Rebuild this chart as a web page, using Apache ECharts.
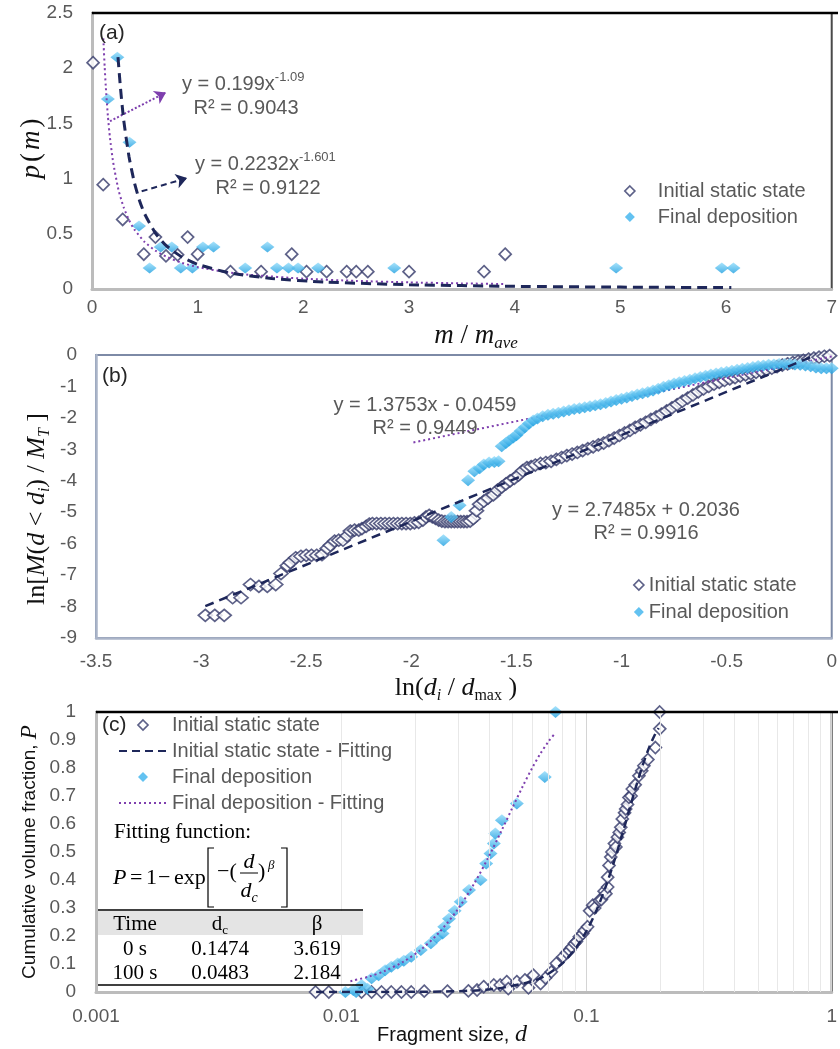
<!DOCTYPE html>
<html><head><meta charset="utf-8">
<script src="https://cdn.jsdelivr.net/npm/echarts@6/dist/echarts.min.js"></script>
<style>html,body{margin:0;padding:0;background:#fff}#chart{width:840px;height:1049px}</style>
</head><body><div id="chart"></div>
<script>
// ---------- Panel (a): p(m) vs m/m_ave ----------
const aInitial = [[0.01,2.05],[0.106,0.945],[0.29,0.63],[0.49,0.315],[0.60,0.47],[0.70,0.30],[0.81,0.31],[0.905,0.47],[1.0,0.315],[1.31,0.157],[1.60,0.157],[1.89,0.315],[2.03,0.157],[2.22,0.157],[2.41,0.157],[2.50,0.157],[2.61,0.157],[3.00,0.157],[3.71,0.157],[3.91,0.315]];
const aFinal = [[0.24,2.10],[0.15,1.72],[0.355,1.33],[0.445,0.57],[0.545,0.19],[0.65,0.38],[0.755,0.38],[0.84,0.19],[0.95,0.19],[1.05,0.38],[1.15,0.38],[1.45,0.19],[1.66,0.38],[1.75,0.19],[1.86,0.19],[1.95,0.19],[2.14,0.19],[2.86,0.19],[4.96,0.19],[5.96,0.19],[6.07,0.19]];
const aFitFinal = [[0.107,2.27],[0.11,2.21],[0.12,2.01],[0.13,1.84],[0.15,1.57],[0.17,1.37],[0.2,1.15],[0.25,0.90],[0.3,0.739],[0.35,0.625],[0.4,0.54],[0.5,0.424],[0.6,0.347],[0.7,0.294],[0.85,0.237],[1.0,0.199],[1.25,0.156],[1.5,0.128],[2,0.0935],[2.5,0.0733],[3,0.060],[3.5,0.0508],[3.9,0.0451]];
const aFitInitial = [[0.246,2.10],[0.27,1.816],[0.3,1.53],[0.35,1.20],[0.4,0.968],[0.45,0.80],[0.5,0.677],[0.6,0.506],[0.7,0.395],[0.85,0.29],[1.0,0.2232],[1.3,0.147],[1.7,0.0954],[2.2,0.0632],[3,0.0385],[4,0.0243],[5,0.017],[6.05,0.0125]];
const aArrowFinal = [[0.17,1.52],[0.70,1.78]];
const aArrowInitial = [[0.47,0.885],[0.90,1.005]];
const aXTicks = {min:0, max:7, interval:1};
const aYTicks = {min:0, max:2.5, interval:0.5};

// ---------- Panel (b): ln[M(d<di)/MT] vs ln(di/dmax) ----------
const bInitial = [[-2.98,-8.28],[-2.935,-8.28],[-2.89,-8.28],[-2.85,-7.72],[-2.81,-7.72],[-2.765,-7.3],[-2.725,-7.36],[-2.685,-7.36],[-2.645,-7.3],
[-2.62,-6.95],[-2.59,-6.7],[-2.575,-6.6],[-2.55,-6.45],[-2.525,-6.4],[-2.5,-6.37],[-2.475,-6.37],[-2.45,-6.37],[-2.425,-6.35],
[-2.4,-6.15],[-2.385,-6.05],[-2.365,-5.92],[-2.345,-5.89],[-2.325,-5.89],[-2.305,-5.75],[-2.29,-5.6],[-2.27,-5.57],[-2.25,-5.57],[-2.235,-5.52],[-2.215,-5.45],[-2.2,-5.38],
[-2.185,-5.36],[-2.165,-5.36],[-2.145,-5.36],[-2.125,-5.36],[-2.105,-5.36],[-2.085,-5.36],[-2.065,-5.36],[-2.045,-5.36],[-2.025,-5.36],[-2.005,-5.36],[-1.985,-5.34],[-1.965,-5.32],[-1.945,-5.25],[-1.93,-5.15],[-1.915,-5.1],[-1.9,-5.15],[-1.885,-5.2],[-1.87,-5.25],[-1.855,-5.28],[-1.84,-5.3],[-1.825,-5.3],[-1.81,-5.3],[-1.795,-5.3],[-1.78,-5.3],[-1.765,-5.3],[-1.75,-5.3],[-1.735,-5.3],[-1.72,-5.28],[-1.705,-5.2],
[-1.69,-4.95],[-1.675,-4.75],[-1.655,-4.65],[-1.635,-4.55],[-1.61,-4.45],[-1.59,-4.3],[-1.57,-4.2],[-1.55,-4.1],[-1.53,-4.0],[-1.51,-3.92],[-1.49,-3.82],[-1.47,-3.68],[-1.45,-3.58],[-1.43,-3.55],[-1.41,-3.5],[-1.385,-3.45],[-1.36,-3.42],[-1.335,-3.38],[-1.31,-3.32],[-1.285,-3.26],[-1.26,-3.2],[-1.235,-3.15],[-1.21,-3.1],[-1.185,-3.04],[-1.16,-2.98],[-1.135,-2.92],[-1.11,-2.86],[-1.085,-2.8],[-1.06,-2.72],[-1.035,-2.64],[-1.01,-2.56],[-0.985,-2.48],[-0.96,-2.4],[-0.935,-2.3],[-0.91,-2.22],[-0.885,-2.14],[-0.86,-2.05],[-0.835,-1.97],[-0.81,-1.88],[-0.785,-1.78],[-0.76,-1.68],[-0.735,-1.58],[-0.71,-1.47],[-0.685,-1.37],[-0.66,-1.27],[-0.635,-1.17],[-0.61,-1.08],[-0.585,-1.0],[-0.56,-0.93],[-0.535,-0.87],[-0.51,-0.81],[-0.485,-0.76],[-0.46,-0.72],[-0.435,-0.67],[-0.41,-0.63],[-0.385,-0.59],[-0.36,-0.55],[-0.335,-0.51],[-0.31,-0.47],[-0.285,-0.42],[-0.26,-0.37],[-0.235,-0.32],[-0.21,-0.28],[-0.185,-0.24],[-0.16,-0.2],[-0.135,-0.17],[-0.11,-0.13],[-0.085,-0.1],[-0.06,-0.07],[-0.035,-0.04],[-0.01,-0.02]];
const bFinal = [[-1.847,-5.89],[-1.81,-5.15],[-1.77,-4.78],[-1.73,-3.98],[-1.70,-3.7],[-1.675,-3.6],[-1.655,-3.48],[-1.63,-3.42],[-1.605,-3.4],[-1.585,-3.38],[-1.57,-2.9],[-1.55,-2.8],[-1.535,-2.72],[-1.515,-2.62],[-1.5,-2.55],[-1.48,-2.42],[-1.46,-2.3],[-1.44,-2.18],[-1.42,-2.08],[-1.4,-2.02],[-1.375,-1.95],[-1.35,-1.9],[-1.325,-1.87],[-1.3,-1.84],[-1.275,-1.8],[-1.25,-1.76],[-1.225,-1.72],[-1.2,-1.69],[-1.175,-1.66],[-1.15,-1.63],[-1.125,-1.6],[-1.1,-1.57],[-1.075,-1.53],[-1.05,-1.48],[-1.025,-1.43],[-1.0,-1.39],[-0.975,-1.35],[-0.95,-1.3],[-0.925,-1.26],[-0.9,-1.22],[-0.875,-1.18],[-0.85,-1.13],[-0.825,-1.07],[-0.8,-1.01],[-0.775,-0.96],[-0.75,-0.91],[-0.725,-0.87],[-0.7,-0.83],[-0.675,-0.79],[-0.65,-0.74],[-0.625,-0.7],[-0.6,-0.66],[-0.575,-0.62],[-0.55,-0.59],[-0.525,-0.56],[-0.5,-0.53],[-0.475,-0.5],[-0.45,-0.47],[-0.425,-0.44],[-0.4,-0.41],[-0.375,-0.38],[-0.35,-0.35],[-0.325,-0.33],[-0.3,-0.31],[-0.275,-0.3],[-0.25,-0.29],[-0.225,-0.29],[-0.2,-0.29],[-0.175,-0.3],[-0.15,-0.31],[-0.125,-0.33],[-0.1,-0.36],[-0.075,-0.4],[-0.05,-0.42],[-0.025,-0.42],[0,-0.42]];
const bFitInitial = [[-2.98,-7.987],[-0.074,0]];
const bFitFinal = [[-1.99,-2.78],[0,-0.046]];
const bXTicks = {min:-3.5, max:0, interval:0.5};
const bYTicks = {min:-9, max:0, interval:1};

// ---------- Panel (c): cumulative volume fraction vs fragment size ----------
const cInitial = [[0.00786,0],[0.0089,0],[0.0121,0],[0.0133,0],[0.0146,0],[0.016,0],[0.0176,0],[0.0193,0],[0.0218,0.003],[0.0271,0.003],[0.033,0.004],[0.0358,0.007],[0.0381,0.019],[0.0419,0.025],[0.0445,0.025],[0.0473,0.037],[0.048,0.012],[0.052,0.037],[0.0561,0.043],[0.058,0.015],[0.0607,0.06],[0.065,0.03],[0.068,0.05],[0.0719,0.072],[0.0753,0.102],[0.0802,0.126],[0.083,0.14],[0.0853,0.149],[0.087,0.16],[0.0893,0.173],[0.091,0.18],[0.0935,0.197],[0.0966,0.209],[0.098,0.22],[0.101,0.233],[0.103,0.29],[0.106,0.31],[0.108,0.30],[0.1127,0.327],[0.115,0.33],[0.118,0.36],[0.12,0.351],[0.122,0.375],[0.122,0.41],[0.1236,0.452],[0.1256,0.482],[0.127,0.5],[0.130,0.53],[0.1318,0.518],[0.1337,0.553],[0.136,0.57],[0.138,0.588],[0.140,0.618],[0.143,0.64],[0.1445,0.654],[0.147,0.67],[0.149,0.695],[0.152,0.70],[0.1538,0.725],[0.158,0.74],[0.1636,0.772],[0.168,0.79],[0.1714,0.808],[0.178,0.83],[0.191,0.873],[0.199,0.94],[0.1988,1.0]];
const cFinal = [[0.0104,0],[0.0112,0.007],[0.0115,0],[0.0121,0.025],[0.0128,0.012],[0.0133,0.049],[0.0142,0.06],[0.0151,0.078],[0.016,0.09],[0.017,0.102],[0.018,0.112],[0.0193,0.126],[0.0211,0.15],[0.0232,0.174],[0.0245,0.195],[0.0259,0.209],[0.0263,0.233],[0.0275,0.262],[0.029,0.29],[0.0307,0.322],[0.0332,0.364],[0.037,0.40],[0.039,0.459],[0.0406,0.495],[0.0419,0.53],[0.0425,0.566],[0.0452,0.613],[0.052,0.673],[0.0676,0.768],[0.0748,1.0]];
const cFitInitial = [[0.0079,0],[0.02,0.0007],[0.04,0.0089],[0.06,0.038],[0.07,0.0653],[0.08,0.1037],[0.09,0.1545],[0.1,0.2178],[0.11,0.293],[0.12,0.3781],[0.13,0.4699],[0.14,0.564],[0.15,0.6554],[0.16,0.7397],[0.17,0.8128],[0.18,0.8727],[0.19,0.9185],[0.197,0.9425]];
const cFitFinal = [[0.0109,0.0387],[0.013,0.0553],[0.015,0.0748],[0.018,0.1093],[0.021,0.1497],[0.025,0.2113],[0.03,0.2977],[0.035,0.3904],[0.04,0.4844],[0.045,0.5755],[0.05,0.6599],[0.055,0.735],[0.06,0.7993],[0.065,0.8524],[0.07,0.8945],[0.0745,0.924]];
const cMinorGrid = [0.002,0.003,0.004,0.005,0.006,0.007,0.008,0.009,0.02,0.03,0.04,0.05,0.06,0.07,0.08,0.09,0.2,0.3,0.4,0.5,0.6,0.7,0.8,0.9];
const cXTicks = {min:0.001, max:1};
const cYTicks = {min:0, max:1, interval:0.1};
const tableHeader = ['Time', 'dc', 'β'];
const tableRows = [['0 s','0.1474','3.619'],['100 s','0.0483','2.184']];

// ---------- styling ----------
const SANS = '"Liberation Sans", Arial, sans-serif';
const SERIF = '"Liberation Serif", "Times New Roman", serif';
const NAVY = '#343a6a';
const FIT_NAVY = '#1e275a';
const PURPLE = '#7e3fae';
const GREY_TXT = '#595959';
const BLUE_GRAD = {type:'linear', x:0, y:0, x2:0, y2:1, colorStops:[{offset:0,color:'#92dcfb'},{offset:1,color:'#1b9ee0'}]};
const LABEL = {fontSize:19, color:GREY_TXT, fontFamily:SANS};
const DIAMOND_ICON = 'path://M5,0L10,5L5,10L0,5Z';

function axisLine(c, w){ return {show:true, onZero:false, lineStyle:{color:c, width:w}}; }
function valAxis(grid, t, margin, lineColor, lineW){
  return Object.assign({type:'value', gridIndex:grid, axisLine:axisLine(lineColor,lineW), axisTick:{show:false},
    splitLine:{show:false}, axisLabel:Object.assign({margin:margin}, LABEL)}, t);
}

function T(x, y, text, o){
  o = o || {};
  const st = {text:text, fill:o.fill||'#000', fontSize:o.size||20, fontFamily:o.family||SANS, fontStyle:o.fstyle||'normal',
    align:o.align||'left', verticalAlign:o.va||'middle', textAlign:o.align||'left', textVerticalAlign:o.va||'middle'};
  if (o.rich) st.rich = o.rich;
  return {type:'text', x:x, y:y, rotation:o.rot||0, silent:true, z:100, style:st};
}
function richSet(size, fill, fam){
  fam = fam || SERIF;
  return {
    r:{fontFamily:fam, fontSize:size, lineHeight:size+6, fill:fill, verticalAlign:'middle'},
    i:{fontFamily:SERIF, fontStyle:'italic', fontSize:size, lineHeight:size+6, fill:fill, verticalAlign:'middle'},
    s:{fontFamily:SERIF, fontStyle:'italic', fontSize:Math.round(size*0.62), lineHeight:Math.round(size*0.55), fill:fill, verticalAlign:'bottom'},
    sr:{fontFamily:SERIF, fontSize:Math.round(size*0.62), lineHeight:Math.round(size*0.55), fill:fill, verticalAlign:'bottom'},
    p:{fontFamily:fam, fontSize:Math.round(size*0.65), lineHeight:Math.round(size*0.6), fill:fill, verticalAlign:'top'},
    g:{fontFamily:fam, fontSize:size, lineHeight:size+6, fill:fill, verticalAlign:'middle', padding:[0,3,0,3]}
  };
}
function line(x1,y1,x2,y2,w){ return {type:'line', silent:true, z:100, shape:{x1:x1,y1:y1,x2:x2,y2:y2}, style:{stroke:'#000', lineWidth:w||1}}; }
function poly(pts){ return {type:'polyline', silent:true, z:100, shape:{points:pts}, style:{stroke:'#000', lineWidth:1.2, fill:null}}; }

const graphics = [
  // panel labels
  T(99, 33, '(a)', {size:21, fill:'#262626'}),
  T(102, 376, '(b)', {size:21, fill:'#262626'}),
  T(102, 725, '(c)', {size:21, fill:'#262626'}),
  // top borders (black) of panels (a) and (c)
  line(92, 13, 838, 13, 2.5),
  line(96, 712, 838, 712, 2.5),
  // (a) annotations
  T(182, 84, '{r|y = 0.199x}{p|-1.09}', {rich:richSet(20, GREY_TXT, SANS)}),
  T(246, 108, 'R² = 0.9043', {size:20, fill:GREY_TXT, align:'center'}),
  T(195, 164, '{r|y = 0.2232x}{p|-1.601}', {rich:richSet(20, GREY_TXT, SANS)}),
  T(268, 188, 'R² = 0.9122', {size:20, fill:GREY_TXT, align:'center'}),
  // (b) annotations
  T(425, 405, 'y = 1.3753x - 0.0459', {size:20, fill:GREY_TXT, align:'center'}),
  T(425, 428, 'R² = 0.9449', {size:20, fill:GREY_TXT, align:'center'}),
  T(646, 510, 'y = 2.7485x + 0.2036', {size:20, fill:GREY_TXT, align:'center'}),
  T(646, 533, 'R² = 0.9916', {size:20, fill:GREY_TXT, align:'center'}),
  // axis titles
  T(476, 336, '{i|m}{r| / }{i|m}{s|ave}', {align:'center', rich:richSet(27, '#111')}),
  T(32, 150, '{g|p}{r|(}{g|m}{r|)}', {align:'center', rot:Math.PI/2, rich:(function(){const r=richSet(27,'#111'); r.g.fontStyle='italic'; return r;})()}),
  T(456, 688, '{r|ln(}{i|d}{s|i}{r| / }{i|d}{sr|max}{r| )}', {align:'center', rich:richSet(26, '#111')}),
  T(37, 509, '{r|ln[}{i|M}{r|(}{i|d}{r| < }{i|d}{s|i}{r|) / }{i|M}{s|T}{r| ]}', {align:'center', rot:Math.PI/2, rich:richSet(26, '#111')}),
  T(452, 1035, '{r|Fragment size, }{i|d}', {align:'center', rich:(function(){const r=richSet(20,'#111',SANS); r.i.fontSize=24; r.i.lineHeight=28; return r;})()}),
  T(30, 852, '{r|Cumulative volume fraction, }{i|P}', {align:'center', rot:Math.PI/2, rich:(function(){const r=richSet(19,'#111',SANS); r.i.fontSize=23; r.i.lineHeight=27; return r;})()}),
  // fitting function
  T(114, 832, 'Fitting function:', {size:21, family:SERIF}),
  T(113, 878, 'P', {size:22, family:SERIF, fstyle:'italic'}),
  T(130, 878, '=', {size:22, family:SERIF}),
  T(146, 878, '1', {size:22, family:SERIF}),
  T(158, 878, '−', {size:22, family:SERIF}),
  T(174, 878, 'exp', {size:22, family:SERIF}),
  poly([[214,848],[208,848],[208,907],[214,907]]),
  poly([[281,848],[287,848],[287,907],[281,907]]),
  T(217, 872, '−(', {size:22, family:SERIF}),
  T(249, 862, 'd', {size:22, family:SERIF, fstyle:'italic', align:'center'}),
  line(240, 873, 258, 873, 1),
  T(249, 891, '{i|d}{s|c}', {align:'center', rich:richSet(22, '#000')}),
  T(258, 872, ')', {size:22, family:SERIF}),
  T(268, 866, 'β', {size:13, family:SERIF, fstyle:'italic'}),
  // table
  {type:'rect', silent:true, z:99, shape:{x:98, y:911, width:265, height:24}, style:{fill:'#e4e4e4'}},
  line(98, 910, 363, 910, 1.3),
  line(98, 985, 363, 985, 1.3),
  T(135, 924, tableHeader[0], {size:21, family:SERIF, align:'center'}),
  T(220, 924, '{r|' + tableHeader[1].charAt(0) + '}{sr|' + tableHeader[1].slice(1) + '}', {align:'center', rich:richSet(21, '#000')}),
  T(317, 924, tableHeader[2], {size:21, family:SERIF, align:'center'})
];
const rowY = [949, 973];
const colX = [135, 220, 317];
tableRows.forEach(function(row, ri){
  row.forEach(function(cell, ci){
    graphics.push(T(colX[ci], rowY[ri], cell, {size:21, family:SERIF, align:'center'}));
  });
});

const hollowItem = {color:'#ffffff', borderColor:NAVY, borderWidth:1.7};
const legendText = {fontSize:20, color:GREY_TXT, fontFamily:SANS, lineHeight:20};
const legHollow = {name:'Initial static state', icon:DIAMOND_ICON, itemStyle:hollowItem};
const legFilled = {name:'Final deposition', icon:DIAMOND_ICON, itemStyle:{color:'#3cb3ee', borderWidth:0}};
const noSym = {color:'rgba(0,0,0,0)', borderColor:'rgba(0,0,0,0)', borderWidth:0, opacity:0};

const option = {
  animation:false,
  backgroundColor:'#ffffff',
  grid:[
    {left:92, top:13, width:746, height:276, show:true, borderColor:'#4a4a4a', borderWidth:2},
    {left:96, top:355, width:742, height:283, show:true, borderColor:'#7d8aa6', borderWidth:2},
    {left:96, top:712, width:742, height:280, show:true, borderColor:'#4a4a4a', borderWidth:2}
  ],
  xAxis:[
    valAxis(0, aXTicks, 9, '#bcbcbc', 3),
    valAxis(1, bXTicks, 14, '#aab4c8', 2.5),
    {type:'log', logBase:10, gridIndex:2, min:cXTicks.min, max:cXTicks.max, axisLine:axisLine('#bcbcbc',3), axisTick:{show:false},
      splitLine:{show:true, lineStyle:{color:'#d4d4d4', width:1}}, axisLabel:Object.assign({margin:15}, LABEL)}
  ],
  yAxis:[
    valAxis(0, aYTicks, 19, '#bcbcbc', 3),
    valAxis(1, bYTicks, 19, '#aab4c8', 2.5),
    valAxis(2, cYTicks, 20, '#bcbcbc', 3)
  ],
  legend:[
    {data:[legHollow, legFilled], orient:'vertical', align:'left', left:624, top:181, padding:0, itemWidth:46, itemHeight:10, itemGap:6,
      symbolKeepAspect:true, textStyle:legendText, selectedMode:false},
    {data:[legHollow, legFilled], orient:'vertical', align:'left', left:633, top:575, padding:0, itemWidth:10, itemHeight:10, itemGap:7,
      symbolKeepAspect:true, textStyle:legendText, selectedMode:false},
    {data:[legHollow, {name:'Initial static state - Fitting', itemStyle:noSym}, legFilled, {name:'Final deposition - Fitting', itemStyle:noSym}],
      orient:'vertical', align:'left', left:118, top:715, padding:0, itemWidth:48, itemHeight:10, itemGap:6, symbolKeepAspect:true, textStyle:legendText, selectedMode:false}
  ],
  graphic:{elements:graphics},
  series:[
    // (a)
    {name:'Initial static state', type:'scatter', xAxisIndex:0, yAxisIndex:0, data:aInitial, symbol:'diamond', symbolSize:[12,12], itemStyle:hollowItem, z:2},
    {name:'Final deposition', type:'scatter', xAxisIndex:0, yAxisIndex:0, data:aFinal, symbol:'diamond', symbolSize:[14,11], itemStyle:{color:BLUE_GRAD}, z:3},
    {name:'fitA_final', type:'line', xAxisIndex:0, yAxisIndex:0, data:aFitFinal, symbol:'none', smooth:0.2, lineStyle:{color:PURPLE, width:2, type:[2,3]}, z:4,
      markLine:{silent:true, symbol:['none','arrow'], symbolSize:11, label:{show:false}, lineStyle:{color:PURPLE, width:2, type:[2,2]},
        data:[[{coord:aArrowFinal[0]},{coord:aArrowFinal[1]}]]}},
    {name:'fitA_initial', type:'line', xAxisIndex:0, yAxisIndex:0, data:aFitInitial, symbol:'none', smooth:0.2, lineStyle:{color:FIT_NAVY, width:3, type:[10,6]}, z:5,
      markLine:{silent:true, symbol:['none','arrow'], symbolSize:11, label:{show:false}, lineStyle:{color:FIT_NAVY, width:2, type:[6,4]},
        data:[[{coord:aArrowInitial[0]},{coord:aArrowInitial[1]}]]}},
    // (b)
    {name:'Initial static state', type:'scatter', xAxisIndex:1, yAxisIndex:1, data:bInitial, symbol:'diamond', symbolSize:[14,12], itemStyle:hollowItem, z:2},
    {name:'fitB_final', type:'line', xAxisIndex:1, yAxisIndex:1, data:bFitFinal, symbol:'none', lineStyle:{color:PURPLE, width:2, type:[2,3]}, z:3},
    {name:'Final deposition', type:'scatter', xAxisIndex:1, yAxisIndex:1, data:bFinal, symbol:'diamond', symbolSize:[14,12], itemStyle:{color:BLUE_GRAD}, z:4},
    {name:'fitB_initial', type:'line', xAxisIndex:1, yAxisIndex:1, data:bFitInitial, symbol:'none', lineStyle:{color:FIT_NAVY, width:2.5, type:[9,6]}, z:5},
    // (c)
    {name:'gridC', type:'scatter', xAxisIndex:2, yAxisIndex:2, data:[], z:1, silent:true,
      markLine:{silent:true, symbol:'none', label:{show:false}, lineStyle:{color:'#e8e8e8', width:1, type:'solid'},
        data:cMinorGrid.map(function(v){return {xAxis:v};})}},
    {name:'Initial static state', type:'scatter', xAxisIndex:2, yAxisIndex:2, data:cInitial, symbol:'diamond', symbolSize:[12,12], itemStyle:hollowItem, z:2},
    {name:'Final deposition', type:'scatter', xAxisIndex:2, yAxisIndex:2, data:cFinal, symbol:'diamond', symbolSize:[14,12], itemStyle:{color:BLUE_GRAD}, z:3},
    {name:'Initial static state - Fitting', type:'line', xAxisIndex:2, yAxisIndex:2, data:cFitInitial, symbol:'none', smooth:0.3, itemStyle:{color:FIT_NAVY}, lineStyle:{color:FIT_NAVY, width:2.5, type:[8,5]}, z:5},
    {name:'Final deposition - Fitting', type:'line', xAxisIndex:2, yAxisIndex:2, data:cFitFinal, symbol:'none', smooth:0.3, itemStyle:{color:PURPLE}, lineStyle:{color:PURPLE, width:2, type:[2,3]}, z:5}
  ]
};
const chart = echarts.init(document.getElementById('chart'), null, {renderer:'canvas'});
chart.setOption(option);
</script></body></html>
